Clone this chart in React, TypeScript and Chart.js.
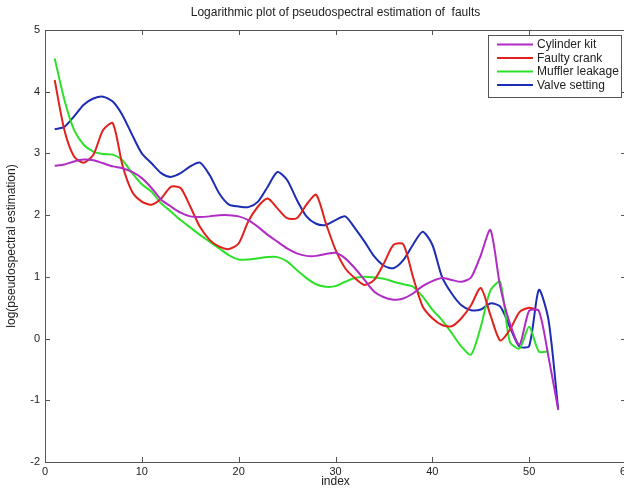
import React, { useEffect, useRef } from "react";
import { Chart, registerables } from "chart.js";

Chart.register(...registerables);

const titleText = "Logarithmic plot of pseudospectral estimation of  faults";
const xAxisLabel = "index";
const yAxisLabel = "log(pseudospectral estimation)";
const seriesLabels = ["Cylinder kit", "Faulty crank", "Muffler leakage", "Valve setting"];
const seriesColors = ["#b02cc4", "#e0221e", "#2ee02a", "#1c2cb4"];

const xTickValues = [0, 10, 20, 30, 40, 50, 60];
const yTickValues = [-2, -1, 0, 1, 2, 3, 4, 5];

// values at index 1, 2, 3, ...
const cylinderKit = [
  2.80, 2.82, 2.87, 2.90, 2.89, 2.84, 2.79, 2.76, 2.70, 2.60,
  2.44, 2.25, 2.14, 2.04, 1.98, 1.97, 1.98, 2.00, 2.00, 1.98,
  1.92, 1.81, 1.68, 1.57, 1.46, 1.38, 1.34, 1.34, 1.37, 1.39,
  1.30, 1.14, 0.95, 0.76, 0.67, 0.63, 0.65, 0.73, 0.85, 0.93,
  0.98, 0.95, 0.92, 0.99, 1.35, 1.76, 0.85, 0.25, -0.10, 0.45,
  0.45, -0.30, -1.15,
];
const faultyCrank = [
  4.19, 3.38, 2.95, 2.85, 2.98, 3.38, 3.49, 2.81, 2.38, 2.22,
  2.17, 2.27, 2.46, 2.44, 2.14, 1.81, 1.60, 1.49, 1.45, 1.54,
  1.90, 2.14, 2.27, 2.11, 1.95, 1.95, 2.17, 2.33, 1.87, 1.44,
  1.14, 0.98, 0.87, 0.95, 1.22, 1.52, 1.53, 1.00, 0.52, 0.33,
  0.22, 0.20, 0.33, 0.54, 0.82, 0.38, -0.03, 0.14, 0.43, 0.50,
  0.46,
];
const mufflerLeakage = [
  4.54, 3.87, 3.38, 3.14, 3.03, 2.99, 2.98, 2.89, 2.68, 2.50,
  2.38, 2.19, 2.06, 1.92, 1.80, 1.68, 1.57, 1.46, 1.35, 1.28,
  1.28, 1.30, 1.32, 1.32, 1.25, 1.11, 0.98, 0.88, 0.84, 0.85,
  0.92, 0.98, 1.00, 0.99, 0.97, 0.92, 0.88, 0.84, 0.68, 0.47,
  0.30, 0.09, -0.13, -0.26, 0.19, 0.78, 0.92, -0.05, -0.16, 0.19,
  -0.21, -0.21,
];
const valveSetting = [
  3.39, 3.43, 3.60, 3.79, 3.89, 3.92, 3.84, 3.62, 3.30, 3.00,
  2.84, 2.68, 2.62, 2.68, 2.79, 2.85, 2.65, 2.35, 2.17, 2.14,
  2.13, 2.22, 2.46, 2.70, 2.57, 2.25, 1.98, 1.86, 1.84, 1.92,
  1.98, 1.79, 1.57, 1.33, 1.18, 1.14, 1.27, 1.52, 1.73, 1.52,
  1.00, 0.73, 0.54, 0.46, 0.47, 0.57, 0.52, 0.19, -0.13, -0.12,
  0.79, 0.30, -1.15,
];

const allSeries = [cylinderKit, faultyCrank, mufflerLeakage, valveSetting];

const FONT = "'Liberation Sans', Arial, sans-serif";
const AXIS_COLOR = "#555555";
const TEXT_COLOR = "#222222";

const framePlugin = {
  id: "matlabFrame",
  afterDatasetsDraw(chart: any) {
    const { ctx, chartArea, scales } = chart;
    const { left, right, top, bottom } = chartArea;
    ctx.save();
    ctx.strokeStyle = AXIS_COLOR;
    ctx.lineWidth = 1;
    ctx.beginPath();
    ctx.rect(Math.round(left) + 0.5, Math.round(top) + 0.5, Math.round(right - left), Math.round(bottom - top));
    ctx.stroke();
    const tl = 5;
    ctx.beginPath();
    scales.x.ticks.forEach((t: any) => {
      const px = Math.round(scales.x.getPixelForValue(t.value)) + 0.5;
      ctx.moveTo(px, bottom);
      ctx.lineTo(px, bottom - tl);
      ctx.moveTo(px, top);
      ctx.lineTo(px, top + tl);
    });
    scales.y.ticks.forEach((t: any) => {
      const py = Math.round(scales.y.getPixelForValue(t.value)) + 0.5;
      ctx.moveTo(left, py);
      ctx.lineTo(left + tl, py);
      ctx.moveTo(right, py);
      ctx.lineTo(right - tl, py);
    });
    ctx.stroke();
    ctx.restore();
  },
  afterDraw(chart: any) {
    const { ctx, chartArea } = chart;
    ctx.save();
    // title
    ctx.fillStyle = TEXT_COLOR;
    ctx.font = `12px ${FONT}`;
    ctx.textAlign = "center";
    ctx.textBaseline = "middle";
    ctx.fillText(titleText, (chartArea.left + chartArea.right) / 2, 13);

    // legend inside plot, top right
    const boxRight = chartArea.right - 5;
    const boxW = 133;
    const boxLeft = boxRight - boxW;
    const boxTop = chartArea.top + 5;
    const rowH = 13.5;
    const boxH = 62;
    ctx.fillStyle = "#ffffff";
    ctx.fillRect(boxLeft, boxTop, boxW, boxH);
    ctx.strokeStyle = AXIS_COLOR;
    ctx.lineWidth = 1;
    ctx.strokeRect(Math.round(boxLeft) + 0.5, Math.round(boxTop) + 0.5, boxW, boxH);
    ctx.font = `12px ${FONT}`;
    ctx.textAlign = "left";
    ctx.textBaseline = "middle";
    chart.data.datasets.forEach((ds: any, i: number) => {
      const yy = boxTop + 9.5 + i * rowH;
      ctx.strokeStyle = ds.borderColor;
      ctx.lineWidth = 2;
      ctx.beginPath();
      ctx.moveTo(boxLeft + 9, yy);
      ctx.lineTo(boxLeft + 45, yy);
      ctx.stroke();
      ctx.fillStyle = TEXT_COLOR;
      ctx.fillText(ds.label, boxLeft + 49, yy + 0.5);
    });
    ctx.restore();
  },
};

export default function App() {
  const canvasRef = useRef<HTMLCanvasElement | null>(null);

  useEffect(() => {
    const canvas = canvasRef.current;
    if (!canvas) return;
    const datasets = allSeries.map((vals, s) => ({
      label: seriesLabels[s],
      data: vals.map((v, i) => ({ x: i + 1, y: v })),
      borderColor: seriesColors[s],
      backgroundColor: seriesColors[s],
      borderWidth: 2,
      pointRadius: 0,
      tension: 0.25,
      fill: false,
    }));
    const chart = new Chart(canvas, {
      type: "line",
      data: { datasets },
      options: {
        animation: false,
        responsive: false,
        maintainAspectRatio: false,
        devicePixelRatio: 1,
        layout: { padding: { left: 0, right: 74, top: 30, bottom: 0 } },
        plugins: {
          legend: { display: false },
          title: { display: false },
          tooltip: { enabled: false },
        },
        scales: {
          x: {
            type: "linear",
            min: xTickValues[0],
            max: xTickValues[xTickValues.length - 1],
            afterBuildTicks: (scale: any) => {
              scale.ticks = xTickValues.map((v) => ({ value: v }));
            },
            afterFit: (scale: any) => {
              scale.height = 27;
            },
            grid: { display: false, drawTicks: false },
            border: { display: true, color: AXIS_COLOR },
            ticks: {
              padding: 3,
              color: TEXT_COLOR,
              font: { family: FONT, size: 11 },
              maxRotation: 0,
              autoSkip: false,
            },
            title: {
              display: true,
              text: xAxisLabel,
              color: TEXT_COLOR,
              font: { family: FONT, size: 12 },
              padding: { top: 0, bottom: 0 },
            },
          },
          y: {
            type: "linear",
            min: yTickValues[0],
            max: yTickValues[yTickValues.length - 1],
            afterBuildTicks: (scale: any) => {
              scale.ticks = yTickValues.map((v) => ({ value: v }));
            },
            afterFit: (scale: any) => {
              scale.width = 45;
            },
            grid: { display: false, drawTicks: false },
            border: { display: true, color: AXIS_COLOR },
            ticks: {
              padding: 5,
              color: TEXT_COLOR,
              font: { family: FONT, size: 11 },
              autoSkip: false,
            },
            title: {
              display: true,
              text: yAxisLabel,
              color: TEXT_COLOR,
              font: { family: FONT, size: 12 },
              padding: { top: 4, bottom: 0 },
            },
          },
        },
      },
      plugins: [framePlugin],
    });
    return () => chart.destroy();
  }, []);

  return (
    <div
      style={{
        position: "fixed",
        left: 0,
        top: 0,
        width: 624,
        height: 489,
        overflow: "hidden",
        background: "#ffffff",
      }}
    >
      <canvas ref={canvasRef} width={700} height={489} style={{ display: "block" }} />
    </div>
  );
}
